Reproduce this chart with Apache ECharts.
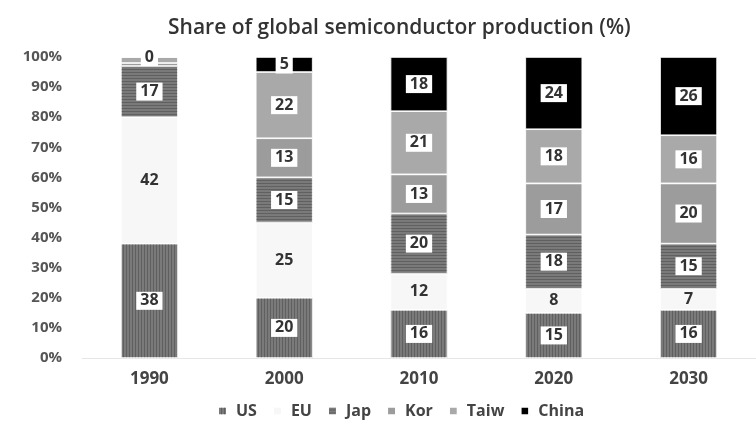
<!DOCTYPE html>
<html>
<head>
<meta charset="utf-8">
<script src="https://cdn.jsdelivr.net/npm/echarts@6/dist/echarts.min.js"></script>
<style>
  html, body { margin: 0; padding: 0; background: #fff; }
  #chart { width: 756px; height: 438px; }
</style>
</head>
<body>
<div id="chart"></div>
<script>
// share of global semiconductor production (%)
const years = ['1990', '2000', '2010', '2020', '2030']
const us = [38, 20, 16, 15, 16]
const eu = [42, 25, 12, 8, 7]
const jap = [17, 15, 20, 18, 15]
const kor = [1, 13, 13, 17, 20]
const taiw = [2, 22, 21, 18, 16]
const china = [0, 5, 18, 24, 26]
const yTicks = [0, 10, 20, 30, 40, 50, 60, 70, 80, 90, 100]

const font = 'Open Sans'
const noDecal = { symbol: 'none' }

const boxLabel = {
  show: true,
  position: 'inside',
  color: '#333',
  fontFamily: font,
  fontSize: 16,
  fontWeight: 'bold',
  backgroundColor: '#fff',
  padding: [2, 4, 0, 4],
  formatter: function (p) {
    // tiny slices in 1990 have no label
    if (p.value > 0 && p.value < 3) return ''
    return p.value
  }
}

function makeSeries(name, data, color, decal, label) {
  return {
    name: name,
    type: 'bar',
    stack: 'total',
    barWidth: 57,
    data: data,
    itemStyle: {
      color: color,
      borderColor: '#fff',
      borderWidth: 0.6,
      decal: decal
    },
    label: label || boxLabel
  }
}

const chart = echarts.init(document.getElementById('chart'))

chart.setOption({
  backgroundColor: '#fff',
  aria: { enabled: true, decal: { show: true } },
  title: {
    text: 'Share of global semiconductor production (%)',
    left: 163,
    top: 13,
    textStyle: { fontFamily: font, fontSize: 21, fontWeight: 600, color: '#333' }
  },
  legend: {
    top: 398,
    left: 212,
    itemWidth: 9,
    itemHeight: 9,
    itemGap: 15,
    icon: 'rect',
    textStyle: { fontFamily: font, fontSize: 16, fontWeight: 'bold', color: '#444', padding: [0, 0, 0, 4] },
    data: ['US', 'EU', 'Jap', 'Kor', 'Taiw', 'China']
  },
  grid: { left: 82, top: 57, width: 699, height: 301 },
  xAxis: {
    type: 'category',
    data: years,
    axisLine: { lineStyle: { color: '#e6e6e6' } },
    axisTick: { show: false },
    axisLabel: { fontFamily: font, fontSize: 17, fontWeight: 'bold', color: '#444', margin: 13 }
  },
  yAxis: {
    type: 'value',
    min: yTicks[0],
    max: yTicks[yTicks.length - 1],
    interval: 10,
    splitLine: { show: false },
    axisLine: { show: false },
    axisTick: { show: false },
    axisLabel: { fontFamily: font, fontSize: 15, fontWeight: 'bold', color: '#555', margin: 20, formatter: '{value}%' }
  },
  series: [
    makeSeries('US', us, '#7a7a7a', {
      symbol: 'rect', symbolSize: 1, color: 'rgba(50,50,50,0.35)', rotation: 0,
      dashArrayX: [1, 2], dashArrayY: [1, 0]
    }),
    makeSeries('EU', eu, '#f7f7f7', noDecal, {
      show: true, position: 'inside', color: '#333', fontFamily: font,
      fontSize: 16, fontWeight: 'bold'
    }),
    makeSeries('Jap', jap, '#7a7a7a', {
      symbol: 'rect', symbolSize: 1, color: 'rgba(50,50,50,0.35)', rotation: 0,
      dashArrayX: [1, 0], dashArrayY: [1, 2]
    }),
    makeSeries('Kor', kor, '#9c9c9c', noDecal),
    makeSeries('Taiw', taiw, '#a9a9a9', noDecal),
    makeSeries('China', china, '#000000', noDecal)
  ]
})
</script>
</body>
</html>
